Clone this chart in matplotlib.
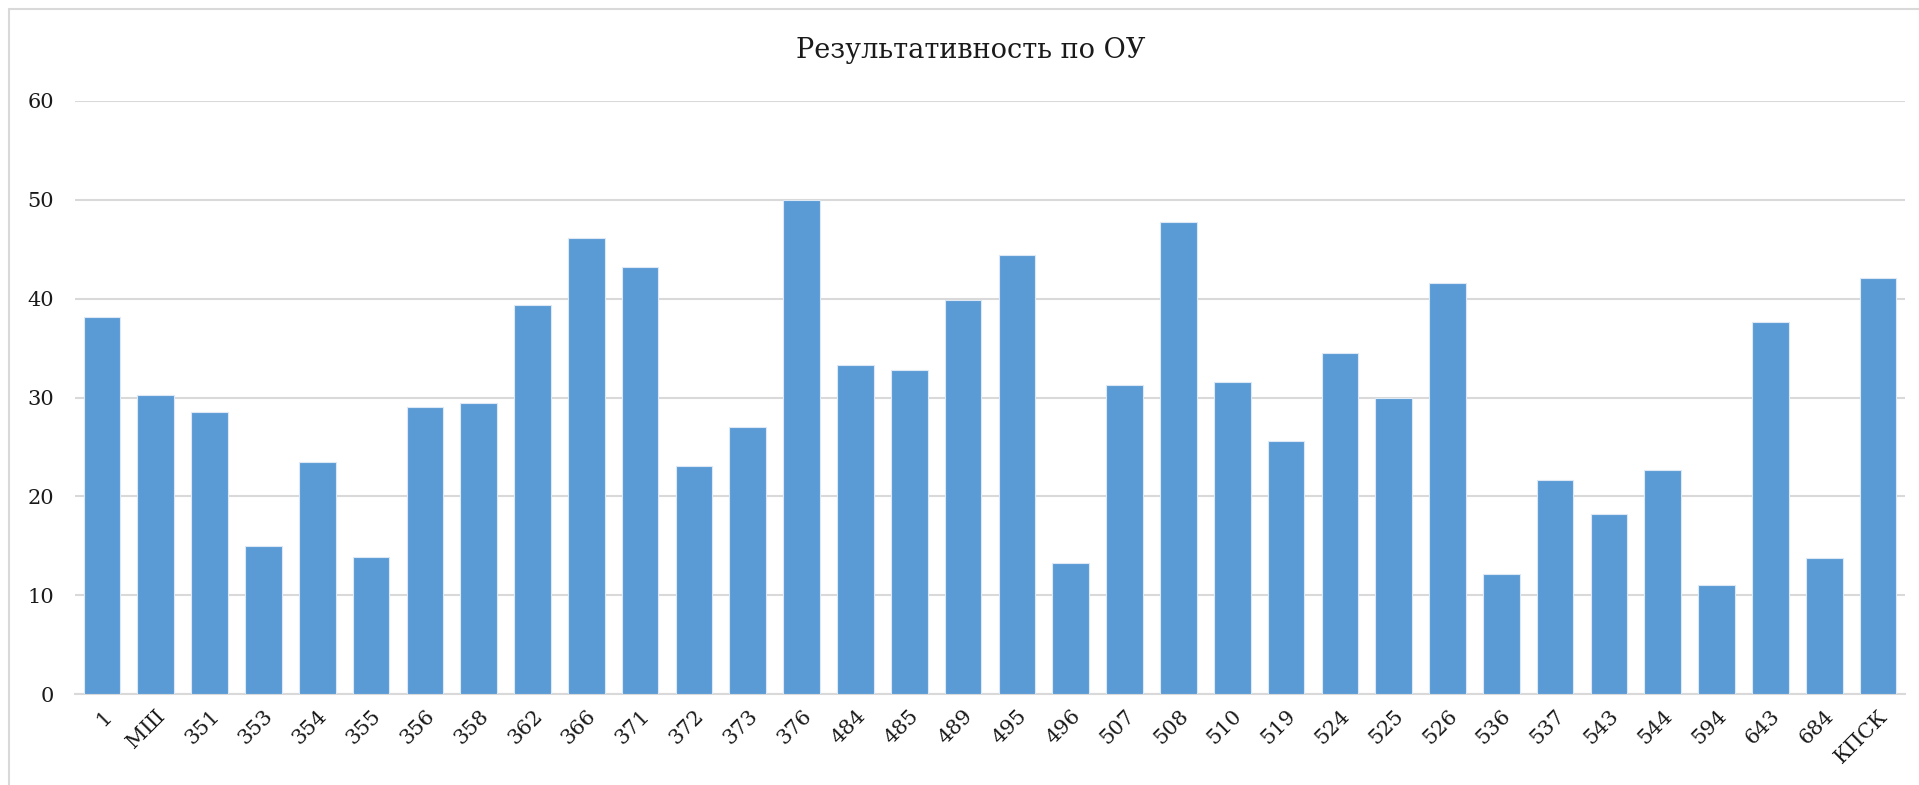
import matplotlib.pyplot as plt
from matplotlib.patches import Rectangle

# Результативность по ОУ
schools = ['1', 'МШ', '351', '353', '354', '355', '356', '358', '362', '366',
           '371', '372', '373', '376', '484', '485', '489', '495', '496', '507',
           '508', '510', '519', '524', '525', '526', '536', '537', '543', '544',
           '594', '643', '684', 'КПСК']
values = [38.1, 30.3, 28.5, 15.0, 23.5, 13.9, 29.0, 29.4, 39.4, 46.1,
          43.2, 23.1, 27.0, 50.0, 33.3, 32.8, 39.9, 44.4, 13.3, 31.3,
          47.8, 31.6, 25.6, 34.5, 30.0, 41.6, 12.1, 21.7, 18.2, 22.7,
          11.0, 37.6, 13.8, 42.1]

plt.rcParams['font.family'] = ['DejaVu Serif']

fig = plt.figure(figsize=(19.19, 7.85), dpi=100)
ax = fig.add_axes([75 / 1919, 1 - 694 / 785, (1905 - 75) / 1919, (694 - 101) / 785])

x = range(len(schools))
ax.bar(x, values, width=0.68, color='#5B9BD5', edgecolor='#DCE8F5', linewidth=0.8, zorder=3)

ax.set_xlim(-0.5, len(schools) - 0.5)
ax.set_ylim(0, 60)
ax.set_yticks(range(0, 61, 10))
ax.set_xticks(list(x))
ax.set_xticklabels(schools, rotation=45, ha='right', rotation_mode='anchor')
ax.tick_params(axis='both', length=0, labelsize=15, colors='#1a1a1a')
ax.tick_params(axis='y', pad=15)
ax.tick_params(axis='x', pad=9)

ax.grid(axis='y', color='#D9D9D9', linewidth=1.5, zorder=0)
for side in ['left', 'right', 'top']:
    ax.spines[side].set_visible(False)
ax.spines['bottom'].set_color('#D9D9D9')
ax.spines['bottom'].set_linewidth(1.5)

fig.text(971 / 1919, 1 - 50 / 785, 'Результативность по ОУ', ha='center', va='center',
         fontsize=19.5, color='#1a1a1a')

# рамка вокруг диаграммы
fig.patches.append(Rectangle((9 / 1919, -0.05), 1.1, 1 - 9 / 785 + 0.05,
                             transform=fig.transFigure, fill=False,
                             edgecolor='#D9D9D9', linewidth=1.5))

fig.savefig('out.png', dpi=100)
